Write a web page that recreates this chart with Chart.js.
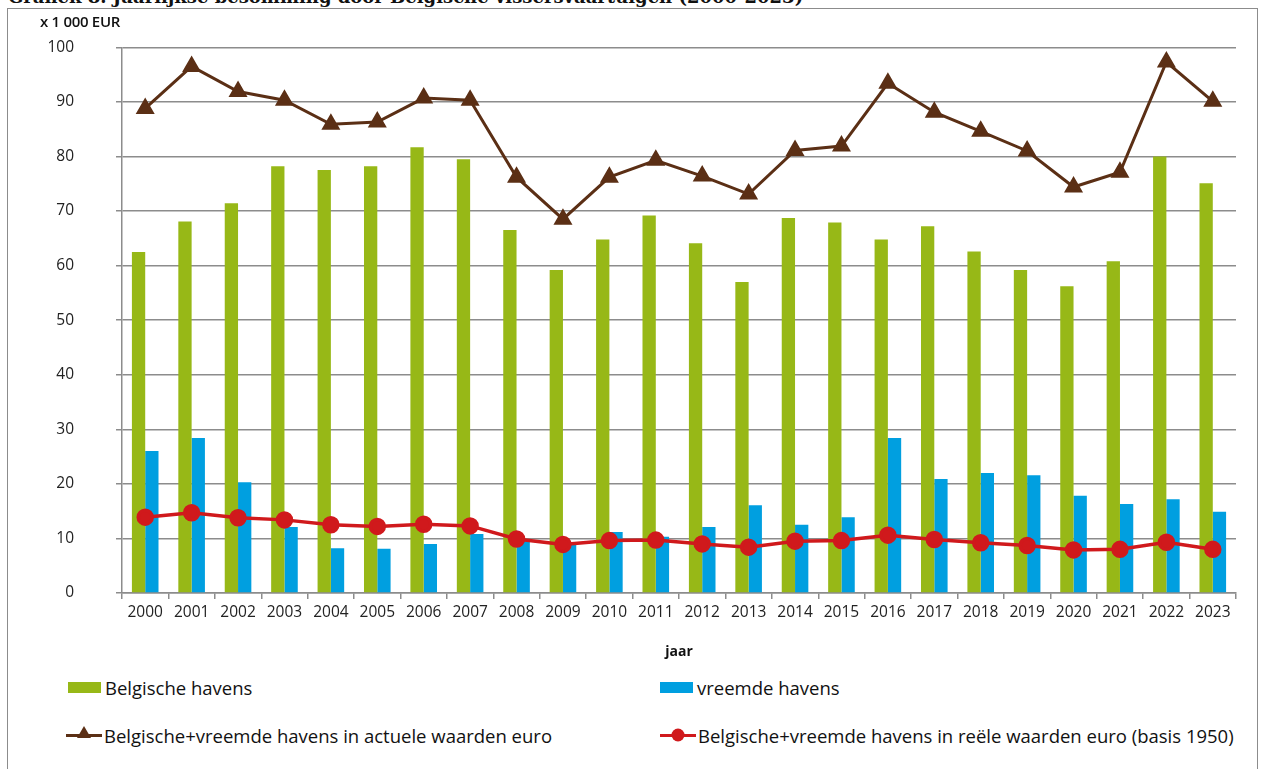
<!DOCTYPE html>
<html>
<head>
    <title>Besomming Belgische vissersvaartuigen</title>
    <script src="https://cdn.jsdelivr.net/npm/chart.js"></script>
    <style>
        body { margin: 0; background: #fff; font-family: "Open Sans", sans-serif; color: #111; }
        #wrap { position: relative; width: 1261px; height: 769px; overflow: hidden; }
        #title { position: absolute; left: 8px; top: -13px; font: bold 18px "DejaVu Serif", serif; line-height: 20px; white-space: nowrap; }
        #frame { position: absolute; left: 7px; top: 8px; width: 1249px; height: 780px; border: 1px solid #8c8c8c; }
        #unit { position: absolute; left: 40px; top: 11px; font-size: 15px; font-weight: 600; letter-spacing: -0.3px; }
        #chartBox { position: absolute; left: 0; top: -4px; width: 1261px; height: 666px; }
        .lg { position: absolute; display: flex; align-items: center; font-size: 18.5px; white-space: nowrap; }
        .sw { width: 33px; height: 11px; margin-right: 4px; }
        .ln { position: relative; width: 36px; height: 3px; margin-right: 2px; }
        .mk { position: absolute; left: 50%; top: 50%; transform: translate(-50%, -50%); }
    </style>
</head>
<body>
<div id="wrap">
    <div id="title">Grafiek 8. Jaarlijkse besomming door Belgische vissersvaartuigen (2000-2023)</div>
    <div id="frame"></div>
    <div id="chartBox"><canvas id="besChart"></canvas></div>
    <div id="unit">x 1 000 EUR</div>
    <div id="legend"></div>
</div>

<script>
    // jaren
    const years = ['2000','2001','2002','2003','2004','2005','2006','2007','2008','2009','2010','2011',
                   '2012','2013','2014','2015','2016','2017','2018','2019','2020','2021','2022','2023'];

    // waarden in 1000 EUR
    const belgischeHavens = [62.5, 68.1, 71.4, 78.2, 77.5, 78.2, 81.7, 79.5, 66.5, 59.2, 64.8, 69.2,
                             64.1, 57.0, 68.7, 67.9, 64.8, 67.2, 62.6, 59.2, 56.2, 60.8, 80.0, 75.1];
    const vreemdeHavens = [26.0, 28.4, 20.3, 12.1, 8.2, 8.1, 9.0, 10.8, 9.8, 9.0, 11.2, 10.3,
                           12.1, 16.1, 12.5, 13.9, 28.4, 20.9, 22.0, 21.6, 17.8, 16.3, 17.2, 14.9];
    const actueleWaarden = [88.8, 96.5, 91.9, 90.3, 85.9, 86.3, 90.7, 90.3, 76.2, 68.5, 76.2, 79.3,
                            76.4, 73.1, 81.1, 81.9, 93.4, 88.1, 84.6, 81.0, 74.4, 77.1, 97.3, 90.1];
    const reeleWaarden = [13.9, 14.7, 13.8, 13.4, 12.5, 12.2, 12.6, 12.3, 9.9, 8.9, 9.6, 9.7,
                          9.0, 8.4, 9.5, 9.6, 10.6, 9.8, 9.2, 8.7, 7.9, 8.0, 9.3, 8.0];

    const yTicks = [0, 10, 20, 30, 40, 50, 60, 70, 80, 90, 100];

    const green = '#97b817';
    const blue = '#009fe0';
    const brown = '#5b2f15';
    const red = '#d0191c';
    const grid = '#8c8c8c';

    const ctx = document.getElementById('besChart').getContext('2d');
    new Chart(ctx, {
        data: {
            labels: years,
            datasets: [
                { type: 'line', label: 'Belgische+vreemde havens in actuele waarden euro', data: actueleWaarden,
                  borderColor: brown, backgroundColor: brown, borderWidth: 3, pointStyle: 'triangle',
                  pointRadius: 8, pointHoverRadius: 8, tension: 0, order: 1 },
                { type: 'line', label: 'Belgische+vreemde havens in reële waarden euro (basis 1950)', data: reeleWaarden,
                  borderColor: red, backgroundColor: red, borderWidth: 3.5, pointStyle: 'circle',
                  pointRadius: 7, pointHoverRadius: 7, tension: 0, order: 1 },
                { type: 'bar', label: 'Belgische havens', data: belgischeHavens, backgroundColor: green,
                  categoryPercentage: 0.573, barPercentage: 1, order: 2 },
                { type: 'bar', label: 'vreemde havens', data: vreemdeHavens, backgroundColor: blue,
                  categoryPercentage: 0.573, barPercentage: 1, order: 2 }
            ]
        },
        options: {
            responsive: true,
            maintainAspectRatio: false,
            animation: false,
            layout: { padding: { top: 40, right: 25, left: 0, bottom: 0 } },
            plugins: { legend: { display: false }, tooltip: { enabled: false } },
            scales: {
                x: {
                    grid: { offset: true, drawOnChartArea: false, color: grid, lineWidth: 1.5, tickLength: 6 },
                    border: { color: grid, width: 1.5 },
                    ticks: { color: '#222', font: { family: 'Open Sans', size: 15.5 }, padding: 4, maxRotation: 0 },
                    title: { display: true, text: 'jaar', color: '#111',
                             font: { family: 'Open Sans', size: 14, weight: 'bold' }, padding: { top: 0, bottom: 2 } },
                    afterFit: (axis) => { axis.height = 69; }
                },
                y: {
                    min: 0, max: 100,
                    afterBuildTicks: (axis) => { axis.ticks = yTicks.map(v => ({ value: v })); },
                    grid: { color: grid, lineWidth: 1.5, tickLength: 6 },
                    border: { color: grid, width: 1.5 },
                    ticks: { color: '#222', font: { family: 'Open Sans', size: 15.5 }, padding: 42 },
                    afterFit: (axis) => { axis.width = 122; }
                }
            }
        }
    });

    // legenda
    const legendItems = [
        { text: 'Belgische havens', kind: 'box', color: green, x: 68, y: 687 },
        { text: 'vreemde havens', kind: 'box', color: blue, x: 660, y: 687 },
        { text: 'Belgische+vreemde havens in actuele waarden euro', kind: 'tri', color: brown, x: 66, y: 735 },
        { text: 'Belgische+vreemde havens in reële waarden euro (basis 1950)', kind: 'dot', color: red, x: 660, y: 735 }
    ];
    const legend = document.getElementById('legend');
    legendItems.forEach(it => {
        const el = document.createElement('div');
        el.className = 'lg';
        el.style.left = it.x + 'px';
        el.style.top = (it.y - 12) + 'px';
        el.style.height = '24px';
        let sym;
        if (it.kind === 'box') {
            sym = '<div class="sw" style="background:' + it.color + '"></div>';
        } else if (it.kind === 'tri') {
            sym = '<div class="ln" style="background:' + it.color + '"><div class="mk" style="width:0;height:0;' +
                  'border-left:7px solid transparent;border-right:7px solid transparent;border-bottom:12px solid ' +
                  it.color + ';margin-top:-3px"></div></div>';
        } else {
            sym = '<div class="ln" style="background:' + it.color + '"><div class="mk" style="width:13px;height:13px;' +
                  'border-radius:50%;background:' + it.color + '"></div></div>';
        }
        el.innerHTML = sym + '<span>' + it.text + '</span>';
        legend.appendChild(el);
    });
</script>
</body>
</html>
